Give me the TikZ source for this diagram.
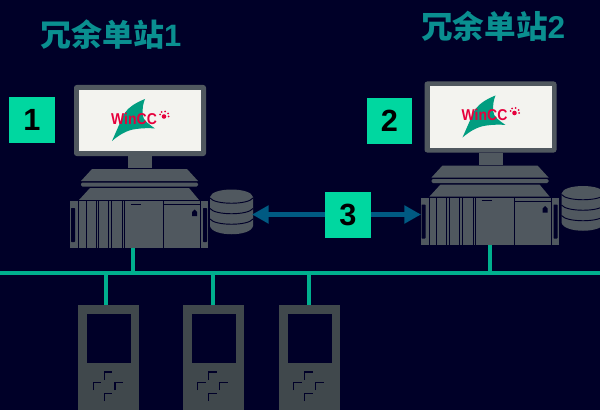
\documentclass[tikz,border=0pt]{standalone}
\usepackage{fontspec}
\setmainfont{Liberation Sans}
\newfontfamily\cjk{Noto Sans CJK SC Bold}
\usetikzlibrary{arrows.meta}
\definecolor{bgc}{HTML}{000028}
\definecolor{gear}{HTML}{50585F}
\definecolor{plcc}{HTML}{40484C}
\definecolor{scr}{HTML}{F3F3EF}
\definecolor{busc}{HTML}{00AF8E}
\definecolor{badge}{HTML}{00D7A0}
\definecolor{linkc}{HTML}{005A82}
\definecolor{titlec}{HTML}{0A8F90}
\definecolor{logored}{HTML}{E6003C}
\tikzset{
  x=0.75pt,y=-0.75pt,
  badgebox/.style={fill=badge,inner sep=0pt,minimum width=34pt,minimum height=34pt,text=black,font=\fontsize{23}{23}\selectfont\bfseries},
  buswire/.style={draw=busc,line width=3.4pt},
  linkarrow/.style={draw=linkc,line width=3.4pt,-{Triangle[length=12.5pt,width=13pt]}},
  titletext/.style={text=titlec,inner sep=0pt,anchor=west,font=\bfseries},
  slot/.style={draw=bgc,line width=0.75pt},
  pcstation/.pic={
    \fill[gear,rounded corners=2pt] (74,85) rectangle (206,156);
    \fill[scr] (79,90) rectangle (201,151);
    \fill[gear] (128,156) rectangle (152,168);
    \fill[gear] (92,169) -- (187,169) -- (198,181) -- (81,181) -- cycle;
    \fill[gear,rounded corners=1pt] (81,182.5) rectangle (198,186.5);
    \fill[gear] (90,188) -- (189,188) -- (199,200) -- (79,200) -- cycle;
    \fill[gear] (70,201) rectangle (208,248);
    \foreach \sx in {78.5,86,96,98.5,108.5,111.5,122.5,124.5,163.5,200.5}{\draw[slot] (\sx,201) -- (\sx,248);}
    \draw[slot] (163.5,204.5) -- (200.5,204.5);
    \draw[slot] (78.5,200.5) -- (200.5,200.5);
    \draw[slot] (131,204) -- (141,204);
    \fill[bgc,rounded corners=0.5pt] (71,208) rectangle (75,242);
    \fill[bgc,rounded corners=0.5pt] (203,208) rectangle (207,242);
    \fill[bgc] (192,216) -- (192,212) -- (194.5,209.5) -- (197,212) -- (197,216) -- cycle;
    % logo
    \shade[left color=busc!90!black,middle color=busc!25!white,right color=busc!90!black,shading angle=335]
      (145,99) .. controls (135,103) and (127,108) .. (123,116) -- (112,141)
      .. controls (119,135) and (127,130) .. (136,129)
      .. controls (143,128) and (150,128) .. (155,128.5)
      .. controls (149,124) and (143,121) .. (142.5,114)
      .. controls (142.5,108) and (143,104) .. (145,99) -- cycle;
    \node[inner sep=0pt,text=logored,yscale=1.12,font=\fontsize{10.5}{10.5}\selectfont\bfseries] at (134,118.5) {WinCC};
    \fill[logored] (164,116.5) circle (2.3);
    \foreach \lx/\ly in {160/114.5,161.5/112,165/111.5,168/113.5,168.5/116.5}{\fill[logored] (\lx,\ly) circle (1);}
  },
  dbstack/.pic={
    \fill[gear] (210,197) .. controls (212,187) and (251,187) .. (253,197) -- (253,226) .. controls (251,237) and (212,237) .. (210,226) -- cycle;
    \foreach \dy in {198,208.5,219}{
      \draw[bgc,line width=0.7pt] (210,\dy) .. controls (215,\dy+7) and (248,\dy+7) .. (253,\dy);
    }
  },
  plcunit/.pic={
    \fill[plcc] (0,0) rectangle (61,105);
    \fill[bgc] (9,9) rectangle (53,57.5);
    \foreach \kx/\ky in {26.3/67,15.3/77.5,37/77.5,26.3/88.5}{
      \draw[bgc,line width=0.8pt] (\kx,\ky+7.5) -- (\kx,\ky) -- (\kx+8,\ky);
    }
  }
}
\begin{document}
\begin{tikzpicture}
\useasboundingbox (0,0) rectangle (600,410);
\fill[bgc] (0,0) rectangle (600,410);
% computers
\pic at (0,0) {pcstation};
\pic at (0,0) {dbstack};
\pic at (350.5,-3.5) {pcstation};
\pic at (351.5,-3.5) {dbstack};
% PLCs
\pic at (78,305) {plcunit};
\pic at (182.5,305) {plcunit};
\pic at (278.5,305) {plcunit};
% anchors
\coordinate (busl) at (0,273);
\coordinate (busr) at (600,273);
\coordinate (pcA) at (133,248);
\coordinate (pcB) at (490,244.5);
\coordinate (busA) at (133,273);
\coordinate (busB) at (490,273);
\coordinate (plcA) at (106,305);
\coordinate (plcB) at (213,305);
\coordinate (plcC) at (309,305);
\coordinate (busC) at (106,273);
\coordinate (busD) at (213,273);
\coordinate (busE) at (309,273);
\coordinate (dbA) at (252,214.5);
\coordinate (srvB) at (421,214.5);
\draw[buswire] (busl) -- (busr);
\draw[buswire] (pcA) -- (busA);
\draw[buswire] (pcB) -- (busB);
\draw[buswire] (busC) -- (plcA);
\draw[buswire] (busD) -- (plcB);
\draw[buswire] (busE) -- (plcC);
% badges
\node[badgebox] (b1) at (32,120) {1};
\node[badgebox] (b2) at (389.5,121) {2};
\node[badgebox] (b3) at (348,215) {3};
\draw[linkarrow] (b3.west|-dbA) -- (dbA);
\draw[linkarrow] (b3.east|-srvB) -- (srvB);
% titles
\node[titletext] (t1) at (40,35) {\fontsize{23.2}{24}\selectfont{\cjk 冗余单站}1};
\node[titletext] (t2) at (421,26) {\fontsize{23.7}{24}\selectfont{\cjk 冗余单站}2};
\end{tikzpicture}
\end{document}
